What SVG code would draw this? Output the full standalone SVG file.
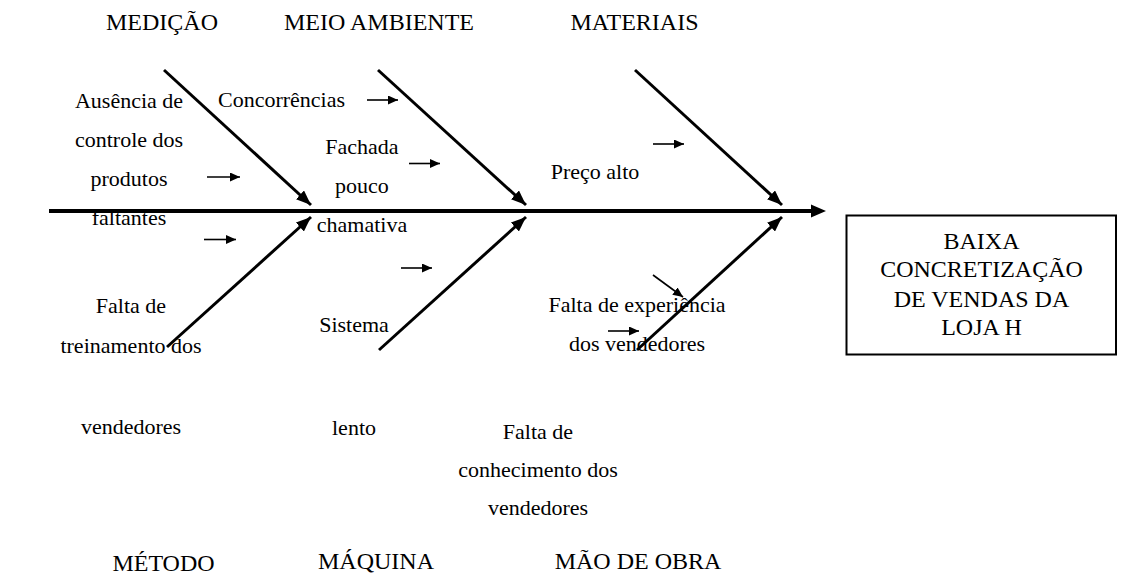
<svg xmlns="http://www.w3.org/2000/svg" width="1130" height="579" viewBox="0 0 1130 579">
<defs>
<style>
text{font-family:"Liberation Serif","Times New Roman",serif;fill:#000;}
.h{font-size:24px;text-anchor:middle;}
.t{font-size:22px;text-anchor:middle;}
.bx{font-size:24px;text-anchor:middle;}
.br{stroke:#000;stroke-width:3;fill:none;}
.sm{stroke:#000;stroke-width:1.6;fill:none;}
</style>
<marker id="mb" markerUnits="userSpaceOnUse" markerWidth="16" markerHeight="12" refX="15" refY="6" orient="auto">
<path d="M0,0 L15,6 L0,12 Z" fill="#000"/>
</marker>
<marker id="ms" markerUnits="userSpaceOnUse" markerWidth="11" markerHeight="9" refX="10" refY="4.5" orient="auto">
<path d="M0,0 L10,4.5 L0,9 Z" fill="#000"/>
</marker>
</defs>
<rect width="1130" height="579" fill="#fff"/>

<g id="categories">
<text class="h" x="162" y="30">MEDIÇÃO</text>
<text class="h" x="379" y="30">MEIO AMBIENTE</text>
<text class="h" x="634.5" y="30">MATERIAIS</text>
<text class="h" x="163.5" y="571">MÉTODO</text>
<text class="h" x="376" y="568.5">MÁQUINA</text>
<text class="h" x="638" y="568.5">MÃO DE OBRA</text>
</g>

<g id="cause-ausencia">
<text class="t" x="129" y="108">Ausência de</text>
<text class="t" x="129" y="147">controle dos</text>
<text class="t" x="129" y="185.5">produtos</text>
<text class="t" x="129" y="224.5">faltantes</text>
</g>
<g id="cause-concorrencias">
<text class="t" x="218" y="106.5" style="text-anchor:start">Concorrências</text>
</g>
<g id="cause-fachada">
<text class="t" x="362" y="154">Fachada</text>
<text class="t" x="362" y="193">pouco</text>
<text class="t" x="362" y="231.5">chamativa</text>
</g>
<g id="cause-preco">
<text class="t" x="595" y="178.5">Preço alto</text>
</g>
<g id="cause-treinamento">
<text class="t" x="131" y="313">Falta de</text>
<text class="t" x="131" y="353">treinamento dos</text>
<text class="t" x="131" y="434">vendedores</text>
</g>
<g id="cause-sistema">
<text class="t" x="354" y="331.5">Sistema</text>
<text class="t" x="354" y="434.5">lento</text>
</g>
<g id="cause-experiencia">
<text class="t" x="637" y="311.5">Falta de experiência</text>
<text class="t" x="637" y="350.5">dos vendedores</text>
</g>
<g id="cause-conhecimento">
<text class="t" x="538" y="438.5">Falta de</text>
<text class="t" x="538" y="476.5">conhecimento dos</text>
<text class="t" x="538" y="515">vendedores</text>
</g>

<g id="effect">
<rect x="846.5" y="215.5" width="269.5" height="139" fill="none" stroke="#000" stroke-width="2"/>
<text class="bx" x="981.5" y="248.5">BAIXA</text>
<text class="bx" x="981.5" y="277">CONCRETIZAÇÃO</text>
<text class="bx" x="981.5" y="306.5">DE VENDAS DA</text>
<text class="bx" x="981.5" y="335">LOJA H</text>
</g>

<g id="connectors">
<line x1="49" y1="211" x2="813" y2="211" stroke="#000" stroke-width="4"/>
<path d="M811,204.5 L826,211 L811,217.5 Z" fill="#000"/>
<line class="br" x1="164" y1="70" x2="311" y2="205" marker-end="url(#mb)"/>
<line class="br" x1="167" y1="347" x2="311" y2="217" marker-end="url(#mb)"/>
<line class="br" x1="378" y1="70" x2="526" y2="205" marker-end="url(#mb)"/>
<line class="br" x1="379" y1="350" x2="526" y2="217" marker-end="url(#mb)"/>
<line class="br" x1="635" y1="70" x2="782" y2="205" marker-end="url(#mb)"/>
<line class="br" x1="637" y1="350" x2="782" y2="217" marker-end="url(#mb)"/>
<line class="sm" x1="207" y1="177" x2="240" y2="177" marker-end="url(#ms)"/>
<line class="sm" x1="204" y1="239.5" x2="236" y2="239.5" marker-end="url(#ms)"/>
<line class="sm" x1="367" y1="100" x2="398" y2="100" marker-end="url(#ms)"/>
<line class="sm" x1="409" y1="163.5" x2="440" y2="163.5" marker-end="url(#ms)"/>
<line class="sm" x1="401" y1="268" x2="432" y2="268" marker-end="url(#ms)"/>
<line class="sm" x1="653" y1="144" x2="684" y2="144" marker-end="url(#ms)"/>
<line class="sm" x1="653" y1="275" x2="683" y2="297" marker-end="url(#ms)"/>
<line class="sm" x1="608" y1="331" x2="639" y2="331" marker-end="url(#ms)"/>
</g>
</svg>
